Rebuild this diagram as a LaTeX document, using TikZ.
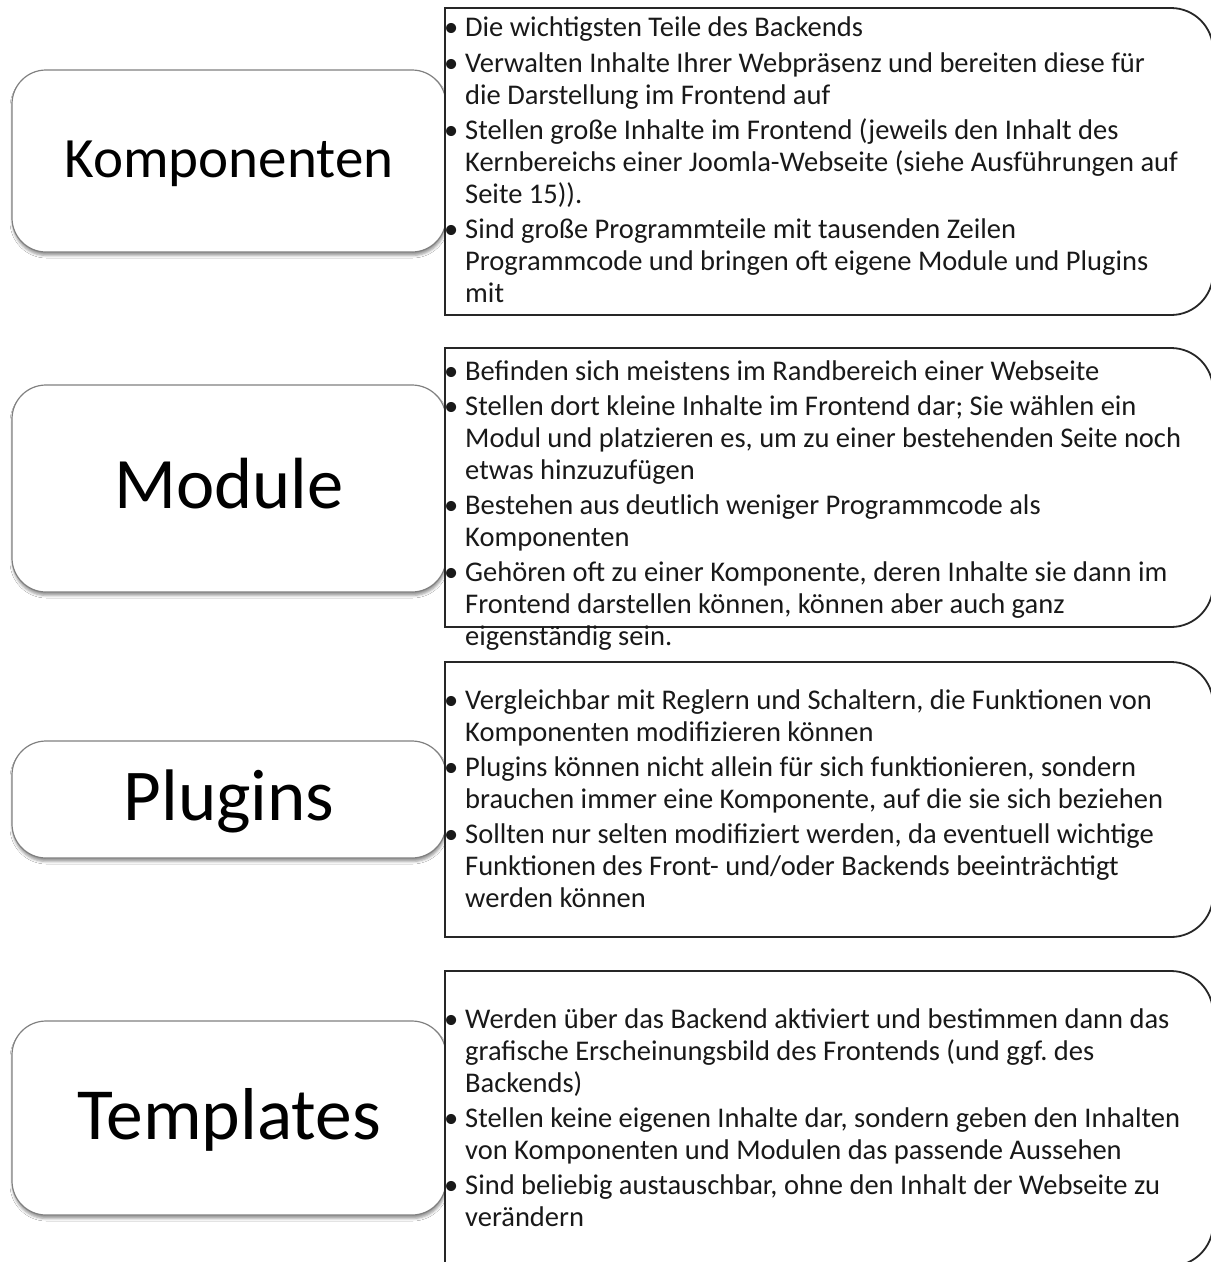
\documentclass[tikz,border=0pt]{standalone}
\usepackage{fontspec}
\setmainfont{Carlito}
\usetikzlibrary{shadows.blur}
\frenchspacing
\newcommand{\bul}{\makebox[21pt][l]{•}}
\newcommand{\cnt}{\hspace*{21pt}}
\begin{document}
\begin{tikzpicture}[x=1pt,y=-1pt,
  lbox/.style={draw=black!50, line width=1.2pt, fill=white, rounded corners=34pt,
    minimum width=434pt, inner sep=0pt, text=black, text depth=0pt,
    blur shadow={shadow xshift=0.5pt, shadow yshift=-3.5pt, shadow blur radius=2.5pt, shadow opacity=40}},
  rbox/.style={draw=black!85, line width=1.8pt, fill=white},
  rtext/.style={anchor=north west, inner sep=0pt, align=left, text=black!90,
    font=\fontsize{28.5}{32}\selectfont}
]
\useasboundingbox (0,0) rectangle (1211,1262);
\fill[white] (0,0) rectangle (1211,1262);

% left boxes
\node[lbox, minimum height=182pt, text height=32pt, font=\fontsize{57}{60}\selectfont] (komp) at (229,161) {Komponenten};
\node[lbox, minimum height=207pt, text height=39pt, font=\fontsize{72.5}{76}\selectfont] (modu) at (229,488.5) {Module};
\node[lbox, minimum height=117pt, text height=41pt, font=\fontsize{73}{77}\selectfont] (plug) at (229,799.5) {Plugins};
\node[lbox, minimum height=194pt, text height=42pt, font=\fontsize{73.5}{77}\selectfont] (temp) at (229,1118) {Templates};

% right boxes
\draw[rbox] (445,8) -- (1171,8) arc[start angle=-90, end angle=0, radius=42] -- (1213,273) arc[start angle=0, end angle=90, radius=42] -- (445,315) -- cycle;
\draw[rbox] (445,348) -- (1171,348) arc[start angle=-90, end angle=0, radius=42] -- (1213,585) arc[start angle=0, end angle=90, radius=42] -- (445,627) -- cycle;
\draw[rbox] (445,662) -- (1171,662) arc[start angle=-90, end angle=0, radius=42] -- (1213,895) arc[start angle=0, end angle=90, radius=42] -- (445,937) -- cycle;
\draw[rbox] (445,971) -- (1171,971) arc[start angle=-90, end angle=0, radius=42] -- (1213,1224) arc[start angle=0, end angle=90, radius=42] -- (445,1266) -- cycle;

% texts
\node[rtext] (t1) at (444,13.6) {\strut\bul Die wichtigsten Teile des Backends\\[4pt]
\bul Verwalten Inhalte Ihrer Webpräsenz und bereiten diese für\\
\cnt die Darstellung im Frontend auf\\[3pt]
\bul Stellen große Inhalte im Frontend (jeweils den Inhalt des\\
\cnt Kernbereichs einer Joomla-Webseite (siehe Ausführungen auf\\
\cnt Seite 15)).\\[3pt]
\bul Sind große Programmteile mit tausenden Zeilen\\
\cnt Programmcode und bringen oft eigene Module und Plugins\\
\cnt mit};

\node[rtext] (t2) at (444,357.5) {\strut\bul Befinden sich meistens im Randbereich einer Webseite\\[3pt]
\bul Stellen dort kleine Inhalte im Frontend dar; Sie wählen ein\\
\cnt Modul und platzieren es, um zu einer bestehenden Seite noch\\
\cnt etwas hinzuzufügen\\[3pt]
\bul Bestehen aus deutlich weniger Programmcode als\\
\cnt Komponenten\\[3pt]
\bul Gehören oft zu einer Komponente, deren Inhalte sie dann im\\
\cnt Frontend darstellen können, können aber auch ganz\\
\cnt eigenständig sein.};

\node[rtext] (t3) at (444,687) {\strut\bul Vergleichbar mit Reglern und Schaltern, die Funktionen von\\
\cnt Komponenten modifizieren können\\[3pt]
\bul Plugins können nicht allein für sich funktionieren, sondern\\
\cnt brauchen immer eine Komponente, auf die sie sich beziehen\\[3pt]
\bul Sollten nur selten modifiziert werden, da eventuell wichtige\\
\cnt Funktionen des Front- und/oder Backends beeinträchtigt\\
\cnt werden können};

\node[rtext] (t4) at (444,1005.5) {\strut\bul Werden über das Backend aktiviert und bestimmen dann das\\
\cnt grafische Erscheinungsbild des Frontends (und ggf. des\\
\cnt Backends)\\[3pt]
\bul Stellen keine eigenen Inhalte dar, sondern geben den Inhalten\\
\cnt von Komponenten und Modulen das passende Aussehen\\[3pt]
\bul Sind beliebig austauschbar, ohne den Inhalt der Webseite zu\\
\cnt verändern};
\end{tikzpicture}
\end{document}
